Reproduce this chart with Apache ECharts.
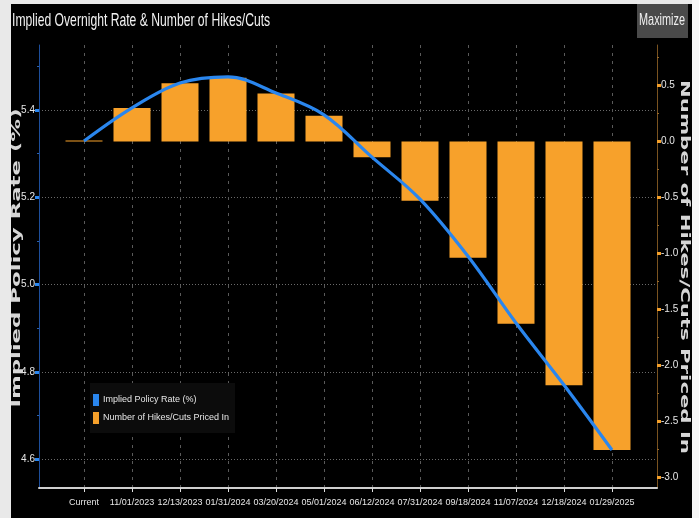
<!DOCTYPE html>
<html>
<head>
<meta charset="utf-8">
<script src="https://cdn.jsdelivr.net/npm/echarts@6/dist/echarts.min.js"></script>
<style>html,body{margin:0;padding:0;background:#000;}#c{width:699px;height:518px;}</style>
</head>
<body>
<div id="c"></div>
<script>
var categories = ['Current','11/01/2023','12/13/2023','01/31/2024','03/20/2024','05/01/2024','06/12/2024','07/31/2024','09/18/2024','11/07/2024','12/18/2024','01/29/2025'];
var impliedRate = [5.329,5.405,5.462,5.476,5.439,5.389,5.292,5.196,5.065,4.912,4.770,4.621];
var hikesCuts = [0.01,0.30,0.52,0.57,0.43,0.23,-0.14,-0.53,-1.04,-1.63,-2.18,-2.76];
var leftTicks = [4.6,4.8,5.0,5.2,5.4];
var leftMinor = [4.7,4.9,5.1,5.3,5.5];
var rightTicks = [0.5,0.0,-0.5,-1.0,-1.5,-2.0,-2.5,-3.0];
var rightMinor = [0.75,0.25,-0.25,-0.75,-1.25,-1.75,-2.25,-2.75];
var titleText = 'Implied Overnight Rate & Number of Hikes/Cuts';
var leftName = 'Implied Policy Rate (%)';
var rightName = 'Number of Hikes/Cuts Priced In';

var SANS = '"Liberation Sans",Arial,sans-serif';
var WIDE = '"DejaVu Sans",Verdana,sans-serif';
var idx = categories.map(function(c,i){return i;});
var chart = echarts.init(document.getElementById('c'));
var L = {min:4.534, max:5.549};
var R = {min:-3.099, max:0.863};
chart.setOption({
  backgroundColor:'#000',
  animation:false,
  graphic:[
    {type:'rect', shape:{x:0,y:0,width:11,height:518}, style:{fill:'#e9e9e9'}, z:100},
    {type:'rect', shape:{x:0,y:0,width:699,height:4}, style:{fill:'#e9e9e9'}, z:100},
    {type:'rect', shape:{x:692,y:0,width:7,height:518}, style:{fill:'#f6f6f6'}, z:100},
    {type:'text', x:12, y:21, scaleX:0.64, z:50,
      style:{text:titleText, fill:'#f2f2f2', font:'19px '+SANS, align:'left', verticalAlign:'middle'}},
    {type:'rect', shape:{x:637,y:4,width:51,height:34}, style:{fill:'#4a4a4a'}, z:90},
    {type:'text', x:662, y:21, scaleX:0.68, z:91,
      style:{text:'Maximize', fill:'#f0f0f0', font:'16px '+SANS, align:'center', verticalAlign:'middle'}},
    {type:'text', x:17, y:258, rotation:Math.PI/2, scaleX:1.9, z:50,
      style:{text:leftName, fill:'#d6d6d6', font:'bold 12px '+WIDE, align:'center', verticalAlign:'middle'}},
    {type:'text', x:684, y:267, rotation:-Math.PI/2, scaleX:1.77, z:50,
      style:{text:rightName, fill:'#d6d6d6', font:'bold 12px '+WIDE, align:'center', verticalAlign:'middle'}}
  ],
  legend:{
    left:90, top:383, orient:'vertical', backgroundColor:'#0c0c0c',
    padding:[11,6,9,3], itemGap:6, itemWidth:6, itemHeight:12, icon:'rect',
    textStyle:{color:'#e6e6e6', fontSize:9, fontFamily:SANS, padding:[0,0,0,-1]},
    data:['Implied Policy Rate (%)','Number of Hikes/Cuts Priced In']
  },
  grid:{left:39, right:42, top:45, bottom:30, outerBoundsMode:'none', containLabel:false},
  xAxis:{
    type:'value', min:-0.9375, max:11.9375,
    axisLine:{show:true, onZero:false, lineStyle:{color:'#cfcfcf', width:2}},
    axisTick:{show:true, customValues:idx, length:4, lineStyle:{color:'#e0e0e0'}},
    axisLabel:{customValues:idx, color:'#e6e6e6', fontSize:9, fontFamily:SANS, margin:10,
      showMinLabel:true, showMaxLabel:true, hideOverlap:false,
      formatter:function(v){return categories[Math.round(v)];}},
    splitLine:{show:true, lineStyle:{color:'#5a5a5a', type:[3,5], width:1}}
  },
  yAxis:[
    {type:'value', position:'left', min:L.min, max:L.max,
      axisLine:{show:true, onZero:false, lineStyle:{color:'#1d4e9a', width:1}},
      axisTick:{show:true, customValues:leftTicks, length:4, lineStyle:{color:'#2a86ee', width:3}},
      axisLabel:{customValues:leftTicks, color:'#e6e6e6', fontSize:10, fontFamily:SANS, margin:4,
        showMinLabel:true, showMaxLabel:true,
        formatter:function(v){return v.toFixed(1);}},
      splitLine:{show:true, lineStyle:{color:'#6a6a6a', type:[1,2], width:1}}
    },
    {type:'value', position:'right', min:R.min, max:R.max,
      axisLine:{show:true, onZero:false, lineStyle:{color:'#7a5320', width:1}},
      axisTick:{show:true, customValues:rightTicks, length:4, lineStyle:{color:'#f5a02a', width:3}},
      axisLabel:{customValues:rightTicks, color:'#e6e6e6', fontSize:10, fontFamily:SANS, margin:4,
        showMinLabel:true, showMaxLabel:true,
        formatter:function(v){return v.toFixed(1);}},
      splitLine:{show:false}
    },
    {type:'value', position:'left', min:L.min, max:L.max,
      axisLine:{show:false, onZero:false}, axisLabel:{show:false}, splitLine:{show:false},
      axisTick:{show:true, customValues:leftMinor, length:2, lineStyle:{color:'#2a60b0', width:1}}
    },
    {type:'value', position:'right', min:R.min, max:R.max,
      axisLine:{show:false, onZero:false}, axisLabel:{show:false}, splitLine:{show:false},
      axisTick:{show:true, customValues:rightMinor, length:2, lineStyle:{color:'#9a6a2a', width:1}}
    }
  ],
  series:[
    {name:'Number of Hikes/Cuts Priced In', type:'bar', yAxisIndex:1, barWidth:37,
      itemStyle:{color:'#f7a12b'},
      data:hikesCuts.map(function(v,i){return [i,v];}), z:2},
    {name:'Implied Policy Rate (%)', type:'line', yAxisIndex:0, smooth:0.35, showSymbol:false,
      lineStyle:{color:'#2a86ee', width:3.2}, itemStyle:{color:'#2a86ee'},
      data:impliedRate.map(function(v,i){return [i,v];}), z:3}
  ]
});
</script>
</body>
</html>
